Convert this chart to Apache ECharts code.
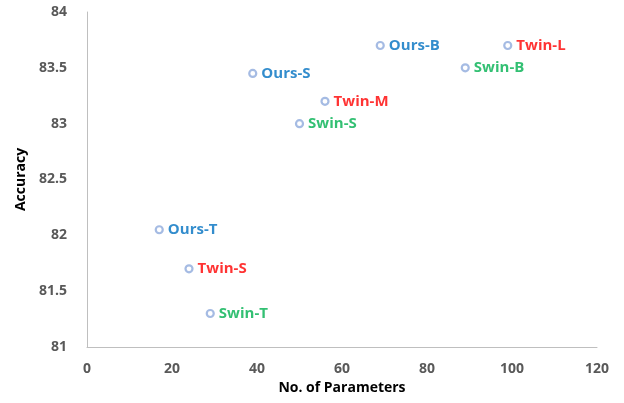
<!DOCTYPE html>
<html>
<head>
	<meta charset="utf-8">
	<script src="https://cdn.jsdelivr.net/npm/echarts@6/dist/echarts.min.js"></script>
</head>
<body style="margin:0;">
	<div id="main" style="width: 624px;height:403px;"></div>
	<script type="text/javascript">
        // data
        var models = ['Ours-B', 'Twin-L', 'Swin-B', 'Ours-S', 'Twin-M', 'Swin-S', 'Ours-T', 'Twin-S', 'Swin-T'];
        var params = [69, 99, 89, 39, 56, 50, 17, 24, 29];
        var accuracy = [83.7, 83.7, 83.5, 83.45, 83.2, 83.0, 82.05, 81.7, 81.3];
        var family = ['Ours', 'Twin', 'Swin', 'Ours', 'Twin', 'Swin', 'Ours', 'Twin', 'Swin'];

        var labelColor = { Ours: '#0070C0', Twin: '#FF0000', Swin: '#00B050' };
        var font = '"Open Sans", "Noto Sans", sans-serif';

        var points = models.map(function (m, i) {
            return {
                name: m,
                value: [params[i], accuracy[i]],
                label: { color: labelColor[family[i]] }
            };
        });

        var myChart = echarts.init(document.getElementById('main'));
        var option = {
            animation: false,
            grid: { left: 87, right: 27, top: 12, bottom: 56 },
            xAxis: {
                type: 'value',
                min: 0, max: 120, interval: 20,
                name: 'No. of Parameters',
                nameLocation: 'middle',
                nameGap: 33,
                nameTextStyle: { fontFamily: font, fontWeight: 'bold', fontSize: 14, color: '#000' },
                axisLine: { show: true, lineStyle: { color: '#BFBFBF', width: 1 } },
                axisTick: { show: false },
                splitLine: { show: false },
                axisLabel: { fontFamily: font, fontWeight: 'bold', fontSize: 14, color: '#595959', margin: 15 }
            },
            yAxis: {
                type: 'value',
                min: 81, max: 84, interval: 0.5,
                name: 'Accuracy',
                nameLocation: 'middle',
                nameGap: 57,
                nameTextStyle: { fontFamily: font, fontWeight: 'bold', fontSize: 14, color: '#000' },
                axisLine: { show: true, lineStyle: { color: '#BFBFBF', width: 1 } },
                axisTick: { show: false },
                splitLine: { show: false },
                axisLabel: { fontFamily: font, fontWeight: 'bold', fontSize: 14, color: '#595959', margin: 20 }
            },
            series: [{
                type: 'scatter',
                symbol: 'circle',
                symbolSize: 7,
                itemStyle: { color: '#fff', borderColor: '#8FAADC', borderWidth: 2.2 },
                label: {
                    show: true,
                    position: 'right',
                    distance: 4,
                    formatter: '{b}',
                    fontFamily: font,
                    fontWeight: 'bold',
                    fontSize: 15
                },
                data: points
            }]
        };
        myChart.setOption(option);
    </script>
</body>
</html>
